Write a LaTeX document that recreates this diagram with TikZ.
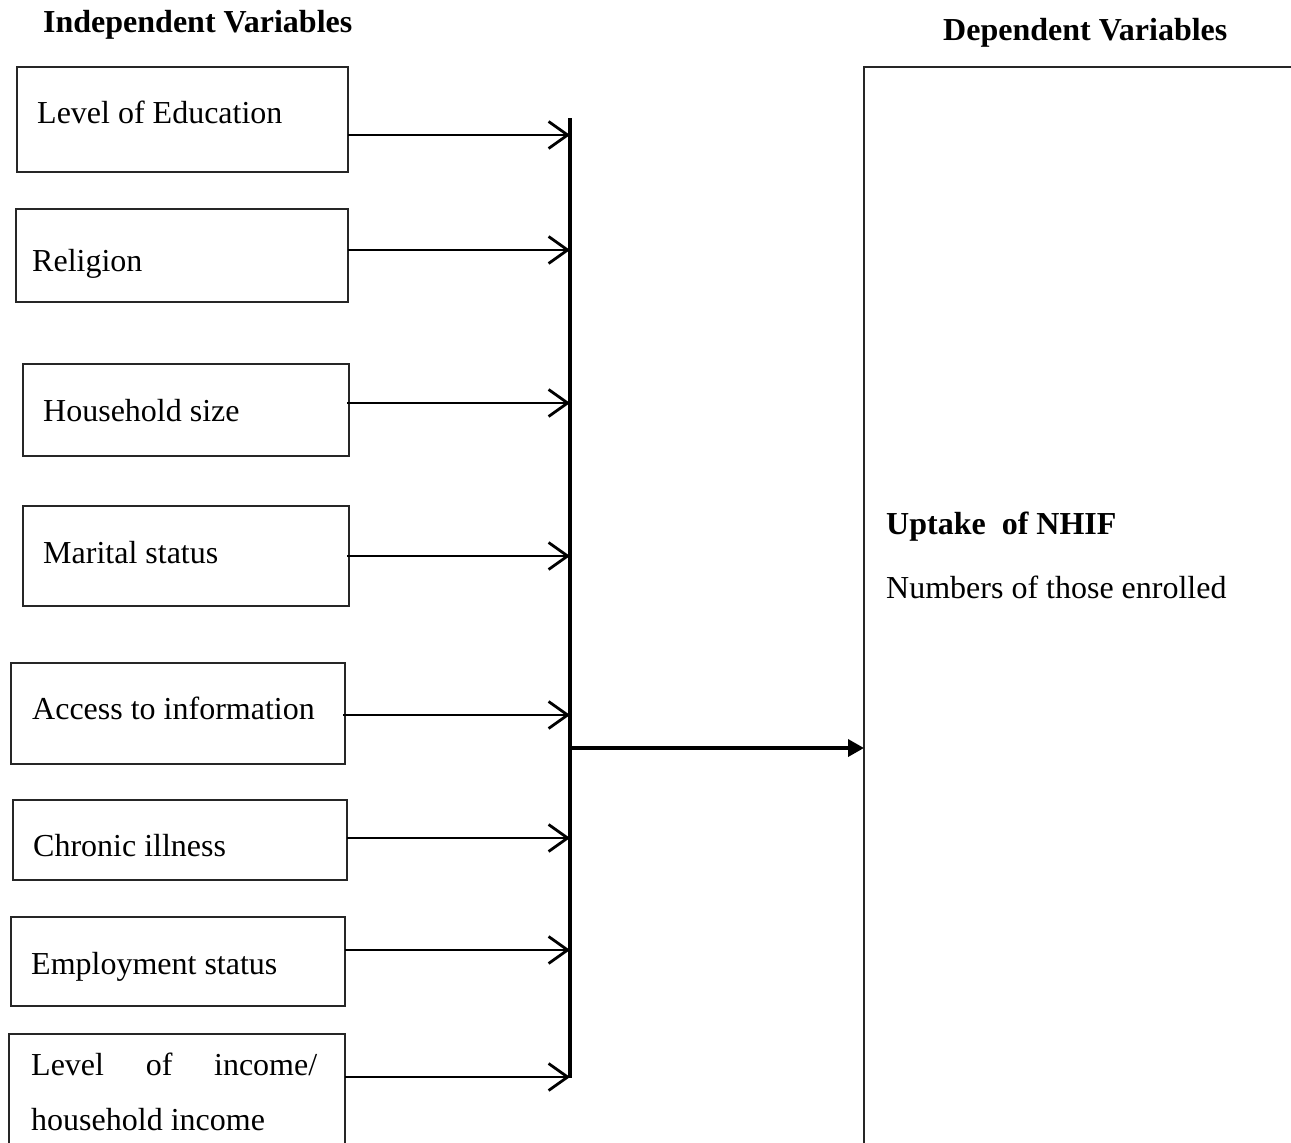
\documentclass[tikz,border=0pt]{standalone}
\usepackage{fontspec}
\setmainfont{Liberation Serif}
\usetikzlibrary{arrows.meta}
\tikzset{
  box/.style={draw=black!85, line width=1.3pt, rectangle, anchor=north west, inner sep=0pt, outer sep=0pt},
  lbl/.style={anchor=base west, inner sep=0pt, font=\fontsize{32}{38}\selectfont},
  head/.style={anchor=base west, inner sep=0pt, font=\fontsize{32}{38}\selectfont\bfseries},
  feed/.style={line width=2pt, -{Straight Barb[length=19pt, width=27pt, line width=2.8pt]}},
  bus/.style={line width=3.2pt},
  main/.style={line width=3.6pt, -{Triangle[length=16pt, width=17pt]}}
}
\begin{document}
\begin{tikzpicture}[x=1pt, y=-1pt]
\useasboundingbox (0,0) rectangle (1291,1143);
\clip (0,0) rectangle (1291,1143);
% headings
\node[head] (hi) at (43,32) {Independent Variables};
\node[head] (hd) at (943,40) {Dependent Variables};
% independent boxes
\node[box, minimum width=331pt, minimum height=105pt] (e1) at (17,67) {};
\node[box, minimum width=332pt, minimum height=93pt] (e2) at (16,209) {};
\node[box, minimum width=326pt, minimum height=92pt] (e3) at (23,364) {};
\node[box, minimum width=326pt, minimum height=100pt] (e4) at (23,506) {};
\node[box, minimum width=334pt, minimum height=101pt] (e5) at (11,663) {};
\node[box, minimum width=334pt, minimum height=80pt] (e6) at (13,800) {};
\node[box, minimum width=334pt, minimum height=89pt] (e7) at (11,917) {};
\node[box, minimum width=336pt, minimum height=130pt] (e8) at (9,1034) {};
% labels
\node[lbl] (t1) at (37,123) {Level of Education};
\node[lbl] (t2) at (32,271) {Religion};
\node[lbl] (t3) at (43,421) {Household size};
\node[lbl] (t4) at (43,563) {Marital status};
\node[lbl] (t5) at (32,719) {Access to information};
\node[lbl] (t6) at (33,856) {Chronic illness};
\node[lbl] (t7) at (31,974) {Employment status};
\node[lbl] (t8a) at (31,1075) {\makebox[286pt][s]{Level of income/}};
\node[lbl] (t8b) at (31,1130) {household income};
% dependent box
\node[box, minimum width=460pt, minimum height=1120pt] (dep) at (864,67) {};
\node[lbl, font=\fontsize{32}{38}\selectfont\bfseries] (u1) at (886,534) {Uptake \ of NHIF};
\node[lbl] (u2) at (886,598) {Numbers of those enrolled};
% bus
\coordinate (btop) at (570,118);
\coordinate (bbot) at (570,1078);
\draw[bus] (btop) -- (bbot);
\coordinate (b1) at (570,135);
\coordinate (b2) at (570,250);
\coordinate (b3) at (570,403);
\coordinate (b4) at (570,556);
\coordinate (b5) at (570,715);
\coordinate (b6) at (570,838);
\coordinate (b7) at (570,950);
\coordinate (b8) at (570,1077);
\draw[feed] (e1.east |- b1) -- (b1);
\draw[feed] (e2.east |- b2) -- (b2);
\draw[feed] ([xshift=-2pt]e3.east |- b3) -- (b3);
\draw[feed] ([xshift=-2pt]e4.east |- b4) -- (b4);
\draw[feed] ([xshift=-2pt]e5.east |- b5) -- (b5);
\draw[feed] (e6.east |- b6) -- (b6);
\draw[feed] (e7.east |- b7) -- (b7);
\draw[feed] (e8.east |- b8) -- (b8);
% main arrow
\coordinate (bm) at (570,748);
\draw[main] (bm) -- (dep.west |- bm);
\end{tikzpicture}
\end{document}
